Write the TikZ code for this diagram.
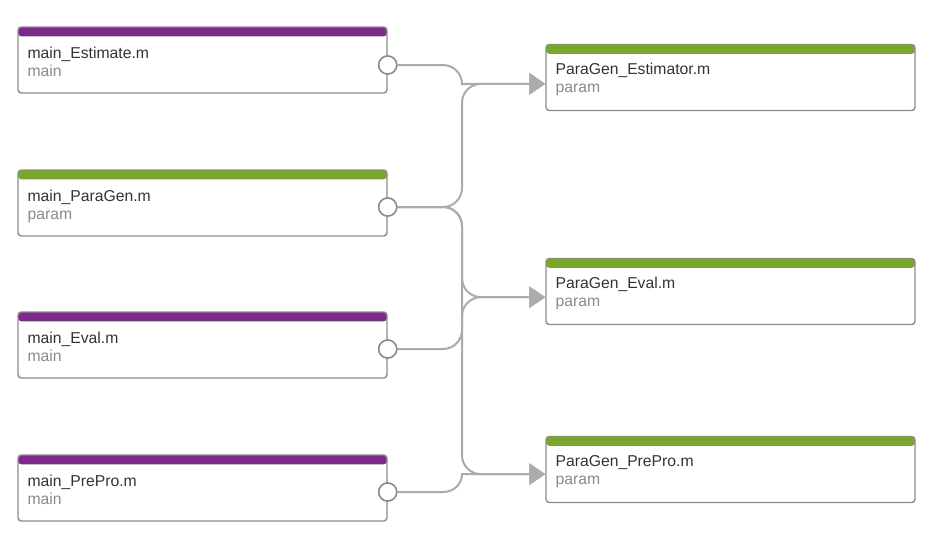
\documentclass[tikz,border=0pt]{standalone}
\usepackage{fontspec}
\setmainfont{Liberation Sans}
\usetikzlibrary{arrows.meta}

\definecolor{mainbar}{HTML}{7D2B8B}
\definecolor{parambar}{HTML}{78A82B}
\definecolor{boxline}{HTML}{8C8C8C}
\definecolor{wiregray}{HTML}{ABABAB}
\definecolor{titletext}{HTML}{333333}
\definecolor{subtext}{HTML}{8A8A8A}

\begin{document}
\begin{tikzpicture}[x=0.75pt,y=-0.75pt,
  file/.style={draw=boxline, line width=1.1pt, rounded corners=2.5pt, fill=white,
    minimum width=276.75pt, minimum height=49.5pt, inner sep=0pt,
    path picture={\fill[#1] (path picture bounding box.north west) rectangle
      ([yshift=-7pt]path picture bounding box.north east);}},
  title/.style={anchor=base west, inner sep=0pt, text=titletext,
    font=\fontsize{11.8}{14}\selectfont},
  sub/.style={title, text=subtext},
  port/.style={circle, draw=boxline, line width=1.1pt, fill=white,
    minimum size=13.5pt, inner sep=0pt},
  link/.style={draw=wiregray, line width=1.5pt, rounded corners=14.25pt,
    -{Triangle[length=12pt,width=16pt]}}]
\useasboundingbox (0,0) rectangle (936,551);

% files on the left
\node[file=mainbar] (est) at (202.5,60) {};
\node[file=parambar] (pg) at (202.5,203) {};
\node[file=mainbar] (ev) at (202.5,345) {};
\node[file=mainbar] (pre) at (202.5,488) {};
\node[title] at ([shift={(10,32)}]est.north west) {main\_Estimate.m};
\node[sub] at ([shift={(10,50)}]est.north west) {main};
\node[title] at ([shift={(10,32)}]pg.north west) {main\_ParaGen.m};
\node[sub] at ([shift={(10,50)}]pg.north west) {param};
\node[title] at ([shift={(10,32)}]ev.north west) {main\_Eval.m};
\node[sub] at ([shift={(10,50)}]ev.north west) {main};
\node[title] at ([shift={(10,32)}]pre.north west) {main\_PrePro.m};
\node[sub] at ([shift={(10,50)}]pre.north west) {main};

% files on the right
\node[file=parambar] (gest) at (730.5,77.5) {};
\node[file=parambar] (gev) at (730.5,291.5) {};
\node[file=parambar] (gpre) at (730.5,469.5) {};
\node[title] at ([shift={(10,31)}]gest.north west) {ParaGen\_Estimator.m};
\node[sub] at ([shift={(10,49)}]gest.north west) {param};
\node[title] at ([shift={(10,31)}]gev.north west) {ParaGen\_Eval.m};
\node[sub] at ([shift={(10,49)}]gev.north west) {param};
\node[title] at ([shift={(10,31)}]gpre.north west) {ParaGen\_PrePro.m};
\node[sub] at ([shift={(10,49)}]gpre.north west) {param};

% ports
\coordinate (in1) at ([yshift=-4.75pt]gest.west);
\coordinate (in2) at ([yshift=-4.25pt]gev.west);
\coordinate (in3) at ([yshift=-3.5pt]gpre.west);
\coordinate (bus) at (462,0);
\node[port] (o1) at ([yshift=-3.75pt]est.east) {};
\node[port] (o2) at ([yshift=-3pt]pg.east) {};
\node[port] (o3) at ([yshift=-3pt]ev.east) {};
\node[port] (o4) at ([yshift=-3pt]pre.east) {};

% connectors
\draw[link, sharp corners] (o1.east) -- (443,65) .. controls (453.5,65) and (462,73.5) .. (462,84) -- (in1);
\draw[link] (o2.east) -| (bus |- in1) -- (in1);
\draw[link] (o2.east) -| (bus |- in2) -- (in2);
\draw[link] (o2.east) -| (bus |- in3) -- (in3);
\draw[link] (o3.east) -| (bus |- in2) -- (in2);
\draw[link, sharp corners] (o4.east) -- (443,492) .. controls (453.5,492) and (462,484.5) .. (462,474) -- (in3);

% ports again on top
\node[port] at (o1) {};
\node[port] at (o2) {};
\node[port] at (o3) {};
\node[port] at (o4) {};
\end{tikzpicture}
\end{document}
